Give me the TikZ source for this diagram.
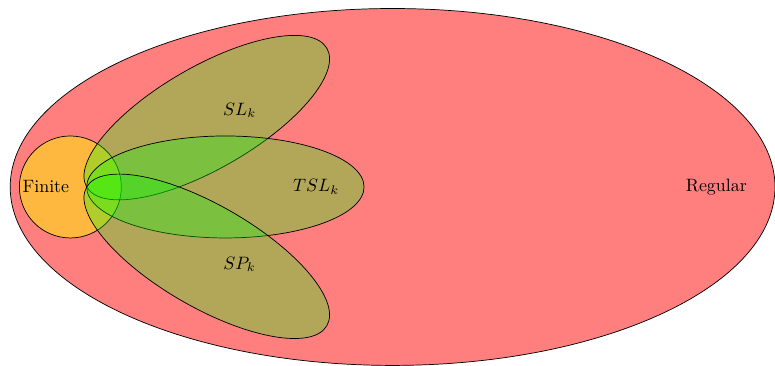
\documentclass[tikz,border=0pt]{standalone}
\begin{document}
\begin{tikzpicture}[menge/.style={draw,fill=green,fill opacity=0.3}]
	\useasboundingbox (-7.7,-3.5) rectangle (7.5,3.667);
	\def\lang{2.72} %halbe Laenge der Ellipsen
	\draw[fill=red,fill opacity=0.5] (0,0) ellipse (7.5 and 3.5);
	\draw[fill=yellow,fill opacity=0.5] (-6.32,0) circle (1);
	\draw[menge,rotate around={30:(-6,0)}] (-6+\lang,0) ellipse [x radius=\lang, y radius=1];
	\draw[menge] (-6+\lang,0) ellipse [x radius=\lang, y radius=1];
	\draw[menge,rotate around={-30:(-6,0)}] (-6+\lang,0) ellipse [x radius=\lang, y radius=1];
	\node (reg) at (6.35,0) {Regular};
	\node (fin) at (-6.8,0) {Finite};
	\node (sl) at (-3,1.5) {$SL_k$};
	\node (tsl) at (-1.5,0) {$TSL_k$};
	\node (sp) at (-3,-1.52) {$SP_k$};
\end{tikzpicture}
\end{document}
